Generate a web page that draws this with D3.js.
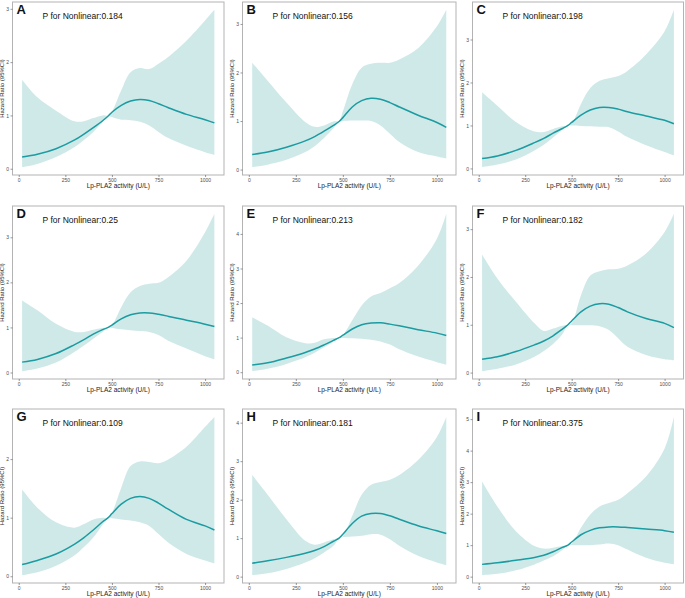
<!DOCTYPE html>
<html><head><meta charset="utf-8">
<script src="https://cdn.jsdelivr.net/npm/d3@7"></script>
<style>html,body{margin:0;padding:0;background:#fff;}svg{display:block;}</style>
</head><body>
<svg id="chart" width="685" height="598"></svg>
<script>
// ---- data ----
const activity = [18,100,200,300,350,400,450,480,500,550,600,650,700,750,800,900,1000,1050];
const panelLabels = ["A","B","C","D","E","F","G","H","I"];
const pNonlinear = ["0.184","0.156","0.198","0.25","0.213","0.182","0.109","0.181","0.375"];
const xTicks = [0,250,500,750,1000];
const yTicksA = [0,1,2,3], yTicksB = [0,1,2,3], yTicksC = [0,1,2,3];
const yTicksD = [0,1,2,3], yTicksE = [0,1,2,3,4], yTicksF = [0,1,2,3];
const yTicksG = [0,1,2], yTicksH = [0,1,2,3,4], yTicksI = [0,1,2,3,4,5];

const hrA = [0.22,0.27,0.375,0.54,0.65,0.77,0.9,0.99,1.06,1.19,1.27,1.30,1.28,1.22,1.15,1.02,0.92,0.86];
const upA = [1.67,1.34,1.09,0.89,0.89,0.95,1.0,1.0,1.07,1.47,1.81,1.89,1.87,1.97,2.09,2.4,2.78,2.98];
const loA = [0.03,0.09,0.22,0.41,0.54,0.69,0.88,0.99,0.97,0.92,0.91,0.88,0.81,0.69,0.58,0.43,0.31,0.26];

const hrB = [0.31,0.36,0.46,0.59,0.68,0.79,0.91,0.99,1.07,1.29,1.42,1.47,1.45,1.38,1.29,1.12,0.97,0.87];
const upB = [2.2,1.83,1.38,0.98,0.88,0.91,0.99,1.0,1.2,1.76,2.1,2.18,2.2,2.2,2.27,2.5,2.95,3.29];
const loB = [0.05,0.1,0.2,0.36,0.48,0.65,0.85,0.99,1.0,1.01,1.01,1.0,0.91,0.74,0.57,0.36,0.27,0.23];

const hrC = [0.23,0.29,0.42,0.6,0.7,0.82,0.93,1.0,1.07,1.24,1.36,1.42,1.42,1.38,1.32,1.22,1.12,1.04];
const upC = [1.77,1.46,1.08,0.86,0.85,0.92,0.98,1.0,1.04,1.5,1.87,2.04,2.1,2.15,2.27,2.65,3.19,3.69];
const loC = [0.03,0.09,0.21,0.42,0.55,0.72,0.9,1.0,1.0,0.99,0.98,0.97,0.96,0.86,0.73,0.54,0.38,0.3];

const hrD = [0.23,0.29,0.42,0.62,0.73,0.85,0.95,1.0,1.05,1.19,1.28,1.32,1.32,1.29,1.25,1.16,1.07,1.02];
const upD = [1.6,1.38,1.08,0.9,0.9,0.95,0.99,1.0,1.05,1.45,1.78,1.92,1.97,1.99,2.11,2.48,3.11,3.52];
const loD = [0.03,0.09,0.22,0.46,0.6,0.75,0.9,1.0,0.99,0.96,0.94,0.92,0.9,0.83,0.71,0.53,0.36,0.29];

const hrE = [0.21,0.27,0.41,0.57,0.67,0.79,0.92,1.0,1.07,1.25,1.37,1.42,1.43,1.39,1.34,1.23,1.13,1.06];
const upE = [1.59,1.35,1.01,0.84,0.85,0.95,0.99,1.0,1.07,1.5,1.93,2.19,2.29,2.43,2.58,3.08,3.86,4.58];
const loE = [0.03,0.1,0.24,0.43,0.56,0.72,0.88,1.0,0.99,0.98,0.97,0.94,0.89,0.8,0.66,0.45,0.29,0.22];

const hrF = [0.28,0.33,0.44,0.58,0.66,0.77,0.91,1.0,1.08,1.27,1.39,1.44,1.43,1.36,1.27,1.13,1.03,0.94];
const upF = [2.47,1.97,1.48,1.03,0.87,0.92,0.98,1.0,1.03,1.62,2.03,2.12,2.16,2.17,2.24,2.49,2.94,3.32];
const loF = [0.03,0.08,0.17,0.33,0.45,0.6,0.8,1.0,0.99,0.99,0.99,0.97,0.89,0.72,0.54,0.37,0.28,0.26];

const hrG = [0.2,0.27,0.38,0.55,0.66,0.79,0.93,1.0,1.07,1.23,1.33,1.36,1.33,1.25,1.15,0.97,0.86,0.79];
const upG = [1.48,1.17,0.92,0.83,0.89,0.97,1.0,1.0,1.08,1.51,1.88,1.96,1.95,1.93,1.99,2.21,2.55,2.72];
const loG = [0.02,0.07,0.18,0.36,0.5,0.66,0.88,1.0,0.99,0.97,0.95,0.92,0.86,0.72,0.58,0.38,0.27,0.22];

const hrH = [0.35,0.41,0.5,0.61,0.68,0.78,0.92,1.0,1.1,1.38,1.57,1.64,1.64,1.58,1.49,1.32,1.19,1.12];
const upH = [2.64,2.13,1.49,0.93,0.83,0.89,0.97,1.0,1.05,1.58,2.13,2.39,2.46,2.52,2.64,3.03,3.63,4.15];
const loH = [0.04,0.09,0.2,0.37,0.48,0.63,0.8,1.0,1.02,1.04,1.06,1.1,1.09,0.97,0.8,0.54,0.37,0.3];

const hrI = [0.39,0.44,0.52,0.61,0.68,0.79,0.93,1.0,1.1,1.33,1.47,1.55,1.58,1.58,1.56,1.51,1.46,1.41];
const upI = [3.02,2.23,1.44,0.97,0.89,0.92,0.97,1.0,1.04,1.55,1.97,2.23,2.34,2.44,2.65,3.18,4.07,5.07];
const loI = [0.05,0.09,0.2,0.39,0.51,0.65,0.85,1.0,1.0,1.0,1.0,1.02,1.05,1.0,0.86,0.6,0.44,0.39];

// ---- assemble ----
const series = [
  {hr:hrA, up:upA, lo:loA, yt:yTicksA}, {hr:hrB, up:upB, lo:loB, yt:yTicksB}, {hr:hrC, up:upC, lo:loC, yt:yTicksC},
  {hr:hrD, up:upD, lo:loD, yt:yTicksD}, {hr:hrE, up:upE, lo:loE, yt:yTicksE}, {hr:hrF, up:upF, lo:loF, yt:yTicksF},
  {hr:hrG, up:upG, lo:loG, yt:yTicksG}, {hr:hrH, up:upH, lo:loH, yt:yTicksH}, {hr:hrI, up:upI, lo:loI, yt:yTicksI}
];

// layout
const colX = [[12.5,224],[242.5,456],[472.5,683.5]];
const rowY = [[2,175],[206,379],[409,583]];

const svg = d3.select("#chart");
const LINE = "#1a9ca1", FILL = "#cfe9e9", FRAME = "#b3b3b3", TICK = "#555";
const FONT = "Liberation Sans, Arial, sans-serif";
const CURVE = d3.curveCatmullRom.alpha(0.5);

function expand(lo, hi, f=0.05){ const d=(hi-lo)*f; return [lo-d, hi+d]; }

series.forEach((s, i) => {
  const c = i % 3, r = Math.floor(i / 3);
  const [x0, x1] = colX[c], [y0, y1] = rowY[r];
  const g = svg.append("g");

  const x = d3.scaleLinear().domain(expand(d3.min(activity), d3.max(activity))).range([x0, x1]);
  const ymin = d3.min(s.lo), ymax = d3.max(s.up);
  const y = d3.scaleLinear().domain(expand(ymin, ymax)).range([y1, y0]);

  const pts = activity.map((a, k) => ({a, hr:s.hr[k], up:s.up[k], lo:s.lo[k]}));

  g.append("path").datum(pts)
    .attr("fill", FILL)
    .attr("d", d3.area().curve(CURVE).x(d => x(d.a)).y0(d => y(d.lo)).y1(d => y(d.up)));
  g.append("path").datum(pts)
    .attr("fill", "none").attr("stroke", LINE).attr("stroke-width", 1.5)
    .attr("d", d3.line().curve(CURVE).x(d => x(d.a)).y(d => y(d.hr)));

  // frame
  g.append("rect").attr("x", x0).attr("y", y0).attr("width", x1 - x0).attr("height", y1 - y0)
    .attr("fill", "none").attr("stroke", FRAME).attr("stroke-width", 1);

  // axes
  const xa = g.append("g").attr("transform", `translate(0,${y1})`)
    .call(d3.axisBottom(x).tickValues(xTicks).tickSize(2).tickPadding(1.5).tickFormat(d3.format("d")));
  const ya = g.append("g").attr("transform", `translate(${x0},0)`)
    .call(d3.axisLeft(y).tickValues(s.yt).tickSize(2).tickPadding(1.5).tickFormat(d3.format("d")));
  [xa, ya].forEach(ax => {
    ax.select(".domain").remove();
    ax.selectAll("line").attr("stroke", TICK).attr("stroke-width", 0.6);
    ax.selectAll("text").attr("fill", "#4d4d4d").style("font-size", "5px").style("font-family", FONT);
  });

  // axis titles
  g.append("text").attr("x", (x0 + x1) / 2).attr("y", y1 + 13)
    .attr("text-anchor", "middle").style("font-size", "6.5px").style("font-family", FONT).attr("fill", "#222")
    .text("Lp-PLA2 activity (U/L)");
  g.append("text").attr("transform", `translate(${x0 - 8.5},${(y0 + y1) / 2}) rotate(-90)`)
    .attr("text-anchor", "middle").style("font-size", "6px").style("font-family", FONT).attr("fill", "#222")
    .text("Hazard Ratio (95%CI)");

  // panel label and P
  g.append("text").attr("x", x0 + 4).attr("y", y0 + 12)
    .style("font-size", "13px").style("font-weight", "bold").style("font-family", FONT).attr("fill", "#111")
    .text(panelLabels[i]);
  g.append("text").attr("x", x0 + 30).attr("y", y0 + 16.5)
    .style("font-size", "8.5px").style("font-family", FONT).attr("fill", "#111")
    .text("P for Nonlinear:" + pNonlinear[i]);
});
</script>
</body></html>
